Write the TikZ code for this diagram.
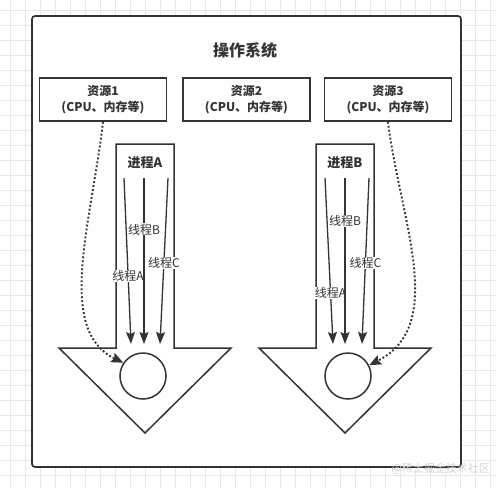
\documentclass[tikz,border=0pt]{standalone}
\usepackage{fontspec}
\setmainfont{Noto Sans CJK SC}
\usetikzlibrary{arrows.meta}
\definecolor{ink}{HTML}{333333}
\tikzset{
  res/.style={draw=ink,line width=1.6pt,minimum width=127pt,minimum height=43pt,
    align=center,font=\fontsize{12}{15.5}\selectfont\bfseries,text=ink},
  proc/.style={draw=ink,line width=1.5pt,line join=miter},
  thr/.style={draw=ink,line width=1.3pt,-{Stealth[length=12pt,width=9pt,inset=2pt]}},
  thrlbl/.style={fill=white,inner sep=0.5pt,font=\fontsize{12}{14}\selectfont,text=ink},
  use/.style={draw=ink,line width=1.9pt,dash pattern=on 1.9pt off 2.1pt,
    -{Stealth[length=12pt,width=10pt,inset=2pt]}},
}
\begin{document}
\begin{tikzpicture}[x=1pt,y=-1pt]
  \useasboundingbox (0,0) rectangle (496,488);
  % background grid
  \foreach \g in {10,25,...,490} {
    \draw[black!9,line width=0.6pt] (\g,0) -- (\g,488);
    \draw[black!9,line width=0.6pt] (0,\g) -- (496,\g);
  }
  \draw[ink,line width=1.7pt,fill=white,rounded corners=3pt] (32,16) rectangle (461,467);
  \node[font=\fontsize{16}{19}\selectfont\bfseries,text=ink] (os) at (245,50) {操作系统};

  \node[res] (res1) at (103,99.5) {资源1\\(CPU、内存等)};
  \node[res] (res2) at (246.5,99.5) {资源2\\(CPU、内存等)};
  \node[res] (res3) at (388,99.5) {资源3\\(CPU、内存等)};

  % process arrows
  \foreach \c in {145,345} {
    \draw[proc] (\c-29,144) -- (\c+29,144) -- (\c+29,348) -- (\c+86,348)
      -- (\c,433) -- (\c-86,348) -- (\c-29,348) -- cycle;
  }
  \node[font=\fontsize{13}{15}\selectfont\bfseries,text=ink] (pA) at (145,163) {进程A};
  \node[font=\fontsize{13}{15}\selectfont\bfseries,text=ink] (pB) at (345,163) {进程B};

  \node[draw=ink,line width=1.5pt,circle,minimum size=46pt] (cA) at (143,376) {};
  \node[draw=ink,line width=1.5pt,circle,minimum size=46pt] (cB) at (348,376) {};

  % threads
  \foreach \n/\xa/\xb/\p/\t in {aA/124/131/0.59/A, aB/144/144/0.31/B, aC/168/160/0.51/C,
                                 bA/325/333/0.69/A, bB/345/345/0.26/B, bC/369/362/0.51/C} {
    \coordinate (\n s) at (\xa,178);
    \coordinate (\n e) at (\xb,344);
    \draw[thr] (\n s) -- (\n e) node[thrlbl,pos=\p] (\n l) {线程\t};
  }

  % resource usage
  \draw[use] (res1.south) .. controls (92,220) and (55,330) .. (cA.146);
  \draw[use] (res3.south) .. controls (400,220) and (448,325) .. (cB.27);

  \node[text=black!18,font=\fontsize{11}{13}\selectfont,anchor=west] (wm) at (388,469) {@稀土掘金技术社区};
\end{tikzpicture}
\end{document}
